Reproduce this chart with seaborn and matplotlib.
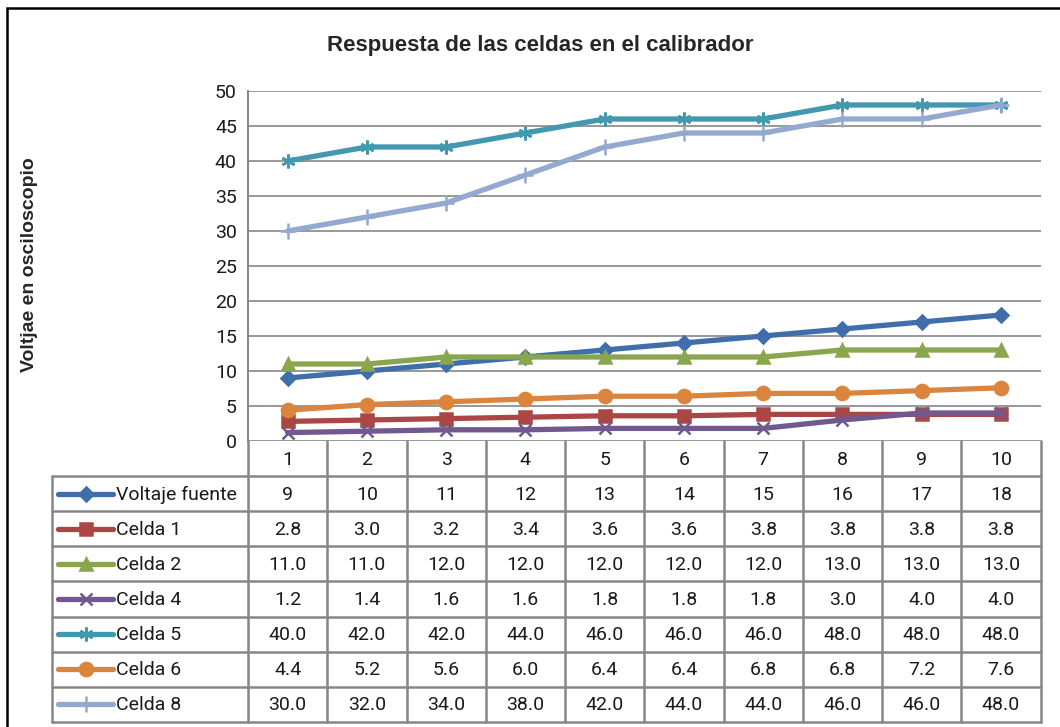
import matplotlib
matplotlib.use('Agg')
import matplotlib.pyplot as plt
import seaborn as sns
from matplotlib.lines import Line2D

# --- DATA ---
categories = [1, 2, 3, 4, 5, 6, 7, 8, 9, 10]
voltaje_fuente = [9, 10, 11, 12, 13, 14, 15, 16, 17, 18]
celda_1 = [2.8, 3.0, 3.2, 3.4, 3.6, 3.6, 3.8, 3.8, 3.8, 3.8]
celda_2 = [11.0, 11.0, 12.0, 12.0, 12.0, 12.0, 12.0, 13.0, 13.0, 13.0]
celda_4 = [1.2, 1.4, 1.6, 1.6, 1.8, 1.8, 1.8, 3.0, 4.0, 4.0]
celda_5 = [40.0, 42.0, 42.0, 44.0, 46.0, 46.0, 46.0, 48.0, 48.0, 48.0]
celda_6 = [4.4, 5.2, 5.6, 6.0, 6.4, 6.4, 6.8, 6.8, 7.2, 7.6]
celda_8 = [30.0, 32.0, 34.0, 38.0, 42.0, 44.0, 44.0, 46.0, 46.0, 48.0]

series_names = ['Voltaje fuente', 'Celda 1', 'Celda 2', 'Celda 4', 'Celda 5', 'Celda 6', 'Celda 8']
series_values = [voltaje_fuente, celda_1, celda_2, celda_4, celda_5, celda_6, celda_8]
series_fmt = ['{:.0f}', '{:.1f}', '{:.1f}', '{:.1f}', '{:.1f}', '{:.1f}', '{:.1f}']
y_ticks = [0, 5, 10, 15, 20, 25, 30, 35, 40, 45, 50]

# --- STYLE ---
colors = ['#3F6EAA', '#AA4643', '#89A54E', '#71588F', '#4198AF', '#DB843D', '#93A9CF']
markers = ['D', 's', '^', 'x', (6, 2, 0), 'o', '+']
msizes = [7.5, 8.5, 8.5, 8.5, 10, 9.5, 11]
grid_c = '#868686'
text_font = ['Roboto', 'DejaVu Sans']
bold_font = ['Liberation Sans Narrow', 'Liberation Sans', 'DejaVu Sans']

sns.set_theme(style='white')
plt.rcParams['font.family'] = text_font

W, H = 1060, 727
fig = plt.figure(figsize=(W / 100, H / 100), dpi=100)

# layout in pixels
px_left, px_right, px_top, px_bottom = 248, 1040.6, 91, 441
tbl_left = 52
row_h = 35.1

ax = fig.add_axes([px_left / W, 1 - px_bottom / H, (px_right - px_left) / W, (px_bottom - px_top) / H])
for vals, c, m, ms in zip(series_values, colors, markers, msizes):
    sns.lineplot(x=categories, y=vals, color=c, marker=m, markersize=ms, linewidth=3.8,
                 markeredgecolor=c, markeredgewidth=1.8, ax=ax)
ax.set_xlim(0.5, 10.5)
ax.set_ylim(0, 50)
ax.set_yticks(y_ticks)
ax.set_xticks([])
ax.set_yticklabels([str(t) for t in y_ticks], fontsize=14, color='#1a1a1a')
ax.tick_params(axis='y', length=0, pad=8)
for t in y_ticks:
    ax.axhline(t, color=grid_c, lw=1.2, zorder=0)
for s in ['top', 'right', 'bottom']:
    ax.spines[s].set_visible(False)
ax.spines['left'].set_color(grid_c)
ax.spines['left'].set_linewidth(1.4)
ax.set_facecolor('none')

# --- overlay in pixel coordinates for table, title, border ---
ov = fig.add_axes([0, 0, 1, 1], zorder=-1)
ov.set_xlim(0, W)
ov.set_ylim(H, 0)
ov.axis('off')

# outer border (left and top visible)
ov.plot([7, 7, W + 5], [H + 5, 8, 8], color='black', lw=1.8, solid_joinstyle='miter')

fig.text(540 / W, 1 - 45 / H, 'Respuesta de las celdas en el calibrador', ha='center', va='center',
         fontsize=16, fontweight='bold', family=bold_font)
fig.text(30 / W, 1 - 265 / H, 'Voltjae en osciloscopio', ha='center', va='center', rotation=90,
         fontsize=14, fontweight='bold', family=bold_font)

# table
cat_w = (px_right - px_left) / len(categories)
n_rows = len(series_names)
tbl_bottom = px_bottom + row_h * (n_rows + 1)
tl = 1.8
ov.plot([px_left, px_left], [px_bottom, tbl_bottom], color=grid_c, lw=tl)
for i in range(1, len(categories) + 1):
    xb = px_left + i * cat_w
    ov.plot([xb, xb], [px_bottom, tbl_bottom], color=grid_c, lw=tl)
ov.plot([tbl_left, tbl_left], [px_bottom + row_h, tbl_bottom], color=grid_c, lw=tl)
for r in range(n_rows + 1):
    yb = px_bottom + row_h * (r + 1)
    ov.plot([tbl_left, px_right], [yb, yb], color=grid_c, lw=tl)

for i, cat in enumerate(categories):
    xc = px_left + (i + 0.5) * cat_w
    ov.text(xc, px_bottom + row_h / 2 + 1, str(cat), ha='center', va='center', fontsize=14, color='#1a1a1a')

for r, (name, vals, fmt, c, m, ms) in enumerate(zip(series_names, series_values, series_fmt,
                                                    colors, markers, msizes)):
    yc = px_bottom + row_h * (r + 1.5)
    ov.add_line(Line2D([58, 113], [yc, yc], color=c, lw=3.8, solid_capstyle='round'))
    ov.add_line(Line2D([85.5], [yc], color=c, marker=m, markersize=ms, markeredgecolor=c,
                       markeredgewidth=1.8))
    ov.text(116, yc + 1, name, ha='left', va='center', fontsize=14, color='#1a1a1a')
    for i, v in enumerate(vals):
        xc = px_left + (i + 0.5) * cat_w
        ov.text(xc, yc + 1, fmt.format(v), ha='center', va='center', fontsize=14, color='#1a1a1a')

fig.savefig('out.png', dpi=100)
